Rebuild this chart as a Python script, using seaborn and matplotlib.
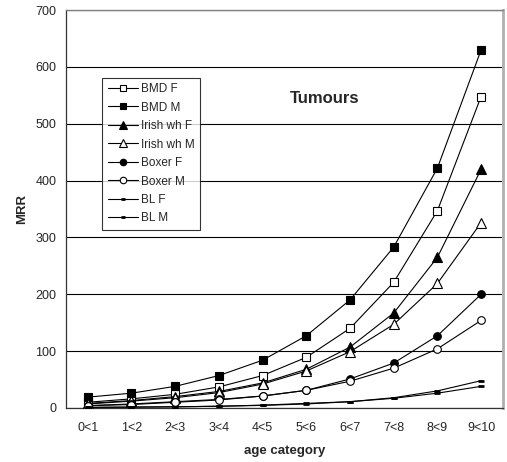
import numpy as np
import pandas as pd
import matplotlib
matplotlib.use("Agg")
import matplotlib.pyplot as plt
import seaborn as sns

categories = ["0<1", "1<2", "2<3", "3<4", "4<5", "5<6", "6<7", "7<8", "8<9", "9<10"]
bmd_f = [10, 16, 24, 37, 57, 89, 140, 221, 347, 548]
bmd_m = [19, 26, 38, 57, 84, 127, 190, 283, 422, 630]
irish_f = [8, 13, 20, 29, 44, 68, 107, 167, 265, 420]
irish_m = [7, 12, 18, 27, 42, 65, 99, 147, 219, 326]
boxer_f = [4, 7, 11, 15, 21, 31, 51, 79, 127, 200]
boxer_m = [4, 6, 10, 14, 21, 31, 47, 70, 104, 154]
bl_f = [1, 1.5, 2, 3, 5, 8, 11, 18, 30, 48]
bl_m = [1, 1.5, 2, 3, 4.5, 7, 11, 17, 26, 38]

series = [
    ("BMD F", bmd_f, "s", "white", 5.5),
    ("BMD M", bmd_m, "s", "black", 5.5),
    ("Irish wh F", irish_f, "^", "black", 6.5),
    ("Irish wh M", irish_m, "^", "white", 6.5),
    ("Boxer F", boxer_f, "o", "black", 5.5),
    ("Boxer M", boxer_m, "o", "white", 5.5),
    ("BL F", bl_f, "_", "black", 4),
    ("BL M", bl_m, "_", "black", 4),
]

sns.set_style("white")
plt.rcParams["font.family"] = ["Liberation Sans", "DejaVu Sans"]

fig = plt.figure(figsize=(5.07, 4.62), dpi=100)
ax = fig.add_axes([0.130, 0.117, 0.862, 0.861])

xpos = np.arange(len(categories)) + 0.5
for name, vals, mk, fc, ms in series:
    df = pd.DataFrame({"x": xpos, "y": vals})
    sns.lineplot(data=df, x="x", y="y", ax=ax, color="black", linewidth=0.8,
                 marker=mk, markersize=ms, markerfacecolor=fc,
                 markeredgecolor="black", markeredgewidth=0.8 if mk != "_" else 2,
                 label=name, zorder=3)

ax.set_xlim(0, 10)
ax.set_ylim(0, 700)
ax.set_yticks(range(0, 701, 100))
ax.set_xticks(np.arange(0, 11), minor=False)
ax.set_xticklabels([])
ax.set_xticks(xpos, minor=True)
ax.set_xticklabels(categories, minor=True)
ax.tick_params(axis="x", which="major", direction="out", length=5, width=0.8, color="black")
ax.tick_params(axis="x", which="minor", length=0, labelsize=9, pad=10)
ax.tick_params(axis="y", direction="out", length=5, width=0.8, labelsize=9, color="black", pad=2)
ax.yaxis.grid(True, color="black", linewidth=0.8)
ax.set_axisbelow(True)

for s in ["left", "bottom"]:
    ax.spines[s].set_color("#333333")
    ax.spines[s].set_linewidth(0.9)
ax.spines["top"].set_color("#808080")
ax.spines["top"].set_linewidth(1)
ax.spines["right"].set_color("#b0b0b0")
ax.spines["right"].set_linewidth(2)

ax.set_xlabel("age category", fontsize=9.5, fontweight="bold", labelpad=8)
ax.set_ylabel("MRR", fontsize=9.5, fontweight="bold", labelpad=5)

ax.text(5.93, 545, "Tumours", fontsize=12, fontweight="bold", ha="center", va="center")

leg = ax.legend(loc="upper left", bbox_to_anchor=(0.07, 0.845), fontsize=8.5,
                frameon=True, fancybox=False, edgecolor="black", handlelength=2.6,
                handletextpad=0.2, labelspacing=0.55, borderpad=0.45, markerscale=0.85)
leg.get_frame().set_linewidth(0.8)

fig.savefig("out.png", dpi=100)
